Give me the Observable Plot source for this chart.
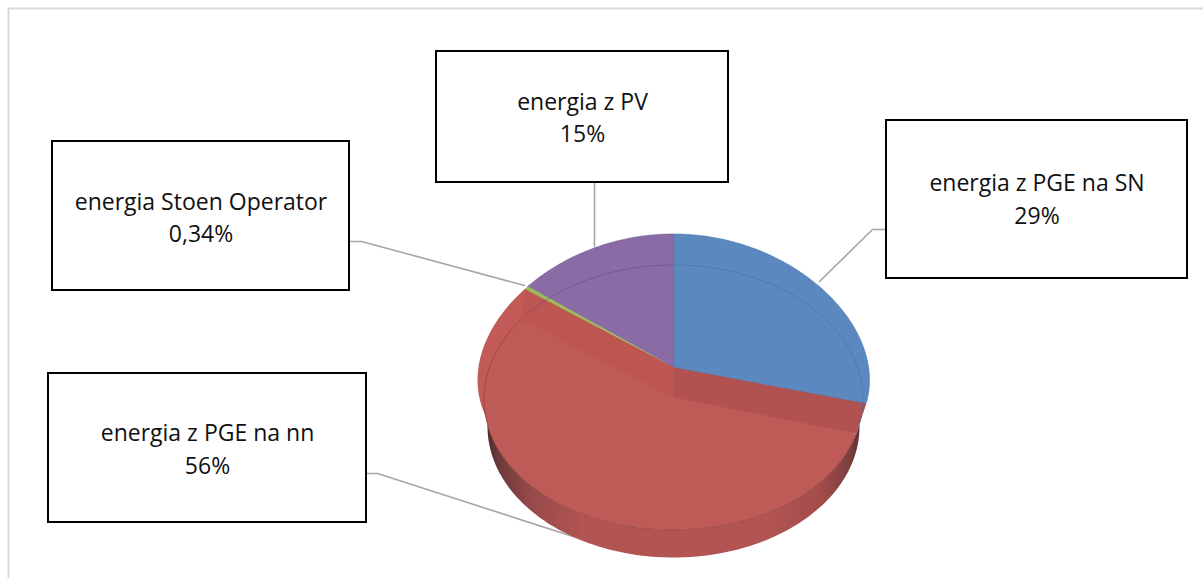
<!DOCTYPE html>
<html>
<head>
<meta charset="utf-8">
<script src="https://cdn.jsdelivr.net/npm/d3@7"></script>
<script src="https://cdn.jsdelivr.net/npm/@observablehq/plot@0.6"></script>
<style>
html,body{margin:0;padding:0;background:#fff;overflow:hidden}
svg{display:block}
</style>
</head>
<body>
<div id="chart"></div>
<script>
// Data (clockwise from 12 o'clock)
const categories = ["energia z PGE na SN", "energia z PGE na nn", "energia Stoen Operator", "energia z PV"];
const shares = [29.4, 55.6, 0.34, 14.66];
const percentLabels = ["29%", "56%", "0,34%", "15%"];
const colors = ["#5b89bf", "#bf5b57", "#9bbb59", "#8a6ba5"];

// Layout of the callouts
const boxes = [
  {x1: 886, x2: 1187, y1: 120, y2: 278, cy: 196.5},
  {x1: 48, x2: 366, y1: 373, y2: 522, cy: 446.5},
  {x1: 52, x2: 349, y1: 141, y2: 290, cy: 215},
  {x1: 436, x2: 728, y1: 51, y2: 182, cy: 115}
];
const leaders = [
  [[886, 229], [872, 229], [819, 281]],
  [[366, 473], [377, 473], [585, 540]],
  [[349, 241], [361, 241], [524, 285]],
  [[594, 182], [594, 246]]
];
const W = 1203, H = 578;

// Projection of the tilted disc
const disc = (cx, cy, rx, ry, k) => (a) => {
  const X = Math.sin(a), Y = Math.cos(a);
  return [cx + rx * X * (1 - k * Y), cy - ry * Y];
};
const upper = disc(673, 366.5, 195, 133, 0.1);
const lower = disc(673, 397, 189.5, 132.5, 0.01);
const wallEdge = disc(673, 426, 186, 131, 0);

const total = d3.sum(shares);
const ends = d3.cumsum(shares).map(v => v / total * 2 * Math.PI);
const starts = [0, ...ends.slice(0, -1)];
const arc = (fn, a0, a1) => {
  const n = Math.max(2, Math.ceil(Math.abs(a1 - a0) / 0.02));
  return d3.range(n + 1).map(i => fn(a0 + (a1 - a0) * i / n));
};
const sector = (fn, c, a0, a1) => [c, ...arc(fn, a0, a1), c];
const toPts = (pts) => pts.map(([x, y]) => ({x, y}));

const cUp = [673, 366.5], cLow = [673, 397];
const redA0 = starts[1], redA1 = ends[1];

// Filled polygon helper, a Plot line with a fill
const poly = (pts, fill, stroke = "none", strokeWidth = 0.6, extra = {}) =>
  Plot.line(toPts(pts), {x: "x", y: "y", fill, stroke, strokeWidth, curve: "linear", strokeLinejoin: "round", ...extra});

const gradient = () => {
  const defs = d3.create("svg:defs");
  const g = defs.append("linearGradient").attr("id", "wall")
    .attr("gradientUnits", "userSpaceOnUse")
    .attr("x1", 484).attr("x2", 864).attr("y1", 0).attr("y2", 0);
  [[0, "#4e2a2a"], [0.04, "#6f3a3a"], [0.12, "#96494a"], [0.26, "#b25452"], [0.74, "#b25452"], [0.88, "#a34d4b"], [0.96, "#7d3f3e"], [1, "#4e2a2a"]]
    .forEach(([o, c]) => g.append("stop").attr("offset", o).attr("stop-color", c));
  return defs.node();
};

const wallPts = [...arc(lower, Math.PI * 0.42, Math.PI * 1.58), ...arc(wallEdge, Math.PI * 1.58, Math.PI * 0.42)];

const labelData = categories.map((c, i) => ({
  text: c + "\n" + percentLabels[i],
  x: (boxes[i].x1 + boxes[i].x2) / 2,
  y: boxes[i].cy
}));

const chart = Plot.plot({
  width: W, height: H,
  margin: 0,
  x: {domain: [0, W], range: [0, W], axis: null},
  y: {domain: [0, H], range: [0, H], axis: null},
  style: {background: "#fff"},
  marks: [
    gradient,
    // outer frame
    Plot.line([{x: 8, y: H}, {x: 8, y: 8}, {x: W, y: 8}], {x: "x", y: "y", stroke: "#d9d9d9", strokeWidth: 2}),
    // leader lines
    ...leaders.map(l => Plot.line(toPts(l), {x: "x", y: "y", stroke: "#a6a6a6", strokeWidth: 1.6})),
    // side wall
    poly(wallPts, "url(#wall)"),
    // red slice rim at the upper level
    poly(sector(upper, cUp, redA0, redA1), "#c25a57"),
    // wedge walls of the cut-out
    poly([cUp, upper(redA0), lower(redA0), cLow], "#b15150"),
    poly([cUp, upper(redA1), lower(redA1), cLow], "#bd5650"),
    // red slice top
    poly(sector(lower, cLow, redA0, redA1), "#bf5b57"),
    poly(arc(lower, redA0, redA1), "none", "#8f3d3a", 0.9, {strokeOpacity: 0.75}),
    // remaining slices at the upper level
    poly(sector(upper, cUp, starts[0], ends[0]), colors[0], "#4a78ad", 0.6),
    poly(sector(upper, cUp, starts[3], ends[3]), colors[3], "#6f5a97", 0.6),
    poly(sector(upper, cUp, starts[2] - 0.002, ends[2] + 0.002), colors[2]),
    // faint circle seen through the raised slices
    poly(arc(lower, starts[3] + 0.02, ends[3]), "none", "#5a4a85", 0.7, {strokeOpacity: 0.7}),
    poly(arc(lower, starts[0], ends[0]), "none", "#3f6a9c", 0.7, {strokeOpacity: 0.7}),
    // callouts
    Plot.rect(boxes, {x1: "x1", x2: "x2", y1: "y1", y2: "y2", fill: "#fff", stroke: "#000", strokeWidth: 2}),
    Plot.text(labelData, {
      x: "x", y: "y", text: "text",
      fontSize: 23, lineHeight: 1.41, fill: "#111",
      fontFamily: "'Open Sans', sans-serif", textAnchor: "middle"
    })
  ]
});
document.getElementById("chart").append(chart);
</script>
</body>
</html>
